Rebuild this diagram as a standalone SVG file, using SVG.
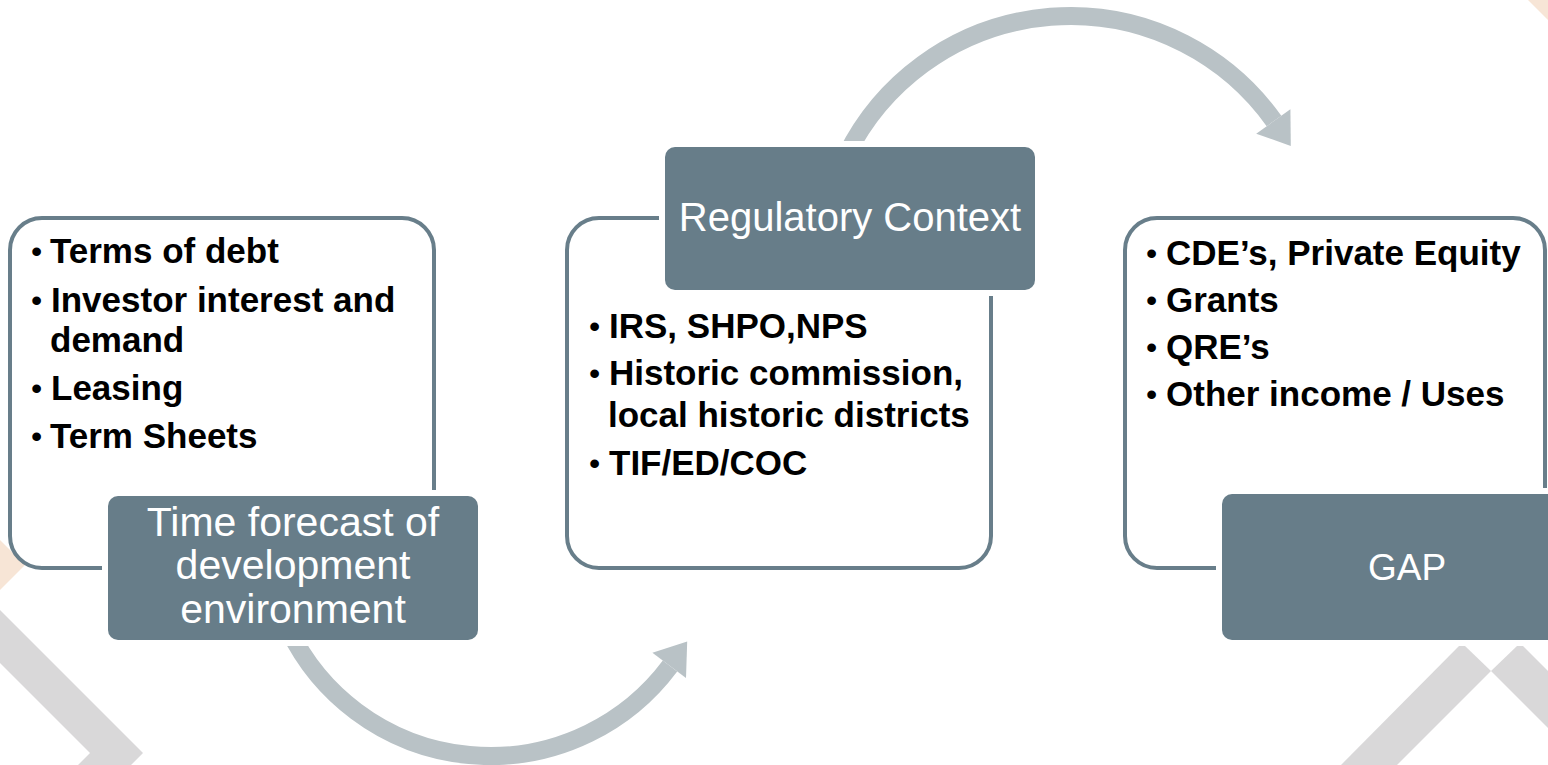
<svg xmlns="http://www.w3.org/2000/svg" width="1548" height="765" viewBox="0 0 1548 765">
<style>
.bg-gray{fill:#D9D8D9}
.bg-peach{fill:#F7E5D6}
.frame{fill:#FFFFFF;stroke:#687E8A;stroke-width:4}
.title{fill:#677D89;stroke:#FFFFFF;stroke-width:12;paint-order:stroke}
.arc{fill:none;stroke:#B9C2C6;stroke-width:18}
.head{fill:#B9C2C6}
.item{font-family:"Liberation Sans",Arial,sans-serif;font-weight:bold;font-size:35px;fill:#000000}
.bul{font-family:"Liberation Sans",Arial,sans-serif;font-size:32px;fill:#000000}
.ttl{font-family:"Liberation Sans",Arial,sans-serif;font-size:40px;fill:#FFFFFF;text-anchor:middle}
</style>
<rect x="0" y="0" width="1548" height="765" fill="#FFFFFF"/>
<g id="background">
  <polygon class="bg-peach" points="0,540 25,565 0,590"/>
  <polygon class="bg-peach" points="1528,0 1548,0 1548,20"/>
  <polygon class="bg-gray" points="0,610 143,753 131,765 78,765 90,753 0,663"/>
  <polygon class="bg-gray" points="1341,765 1459,646 1465,646 1491,671 1397,765"/>
  <polygon class="bg-gray" points="1491,671 1517,646 1523,646 1548,671 1548,728"/>
</g>
<g id="connectors">
  <path class="arc" d="M 289 630 A 224 224 0 0 0 670 666"/>
  <polygon class="head" points="652.4,652.8 687.2,641.4 686,678"/>
  <path class="arc" d="M 846.4 155 A 250 250 0 0 1 1274 121"/>
  <polygon class="head" points="1256.2,133.7 1290.4,109.3 1290.8,145.9"/>
</g>
<g id="node-time-forecast">
  <rect class="frame" x="10" y="218" width="424" height="350" rx="32"/>
  <text class="bul" x="31" y="262">•</text><text class="item" x="50" y="263">Terms of debt</text>
  <text class="bul" x="31" y="311">•</text><text class="item" x="51" y="312">Investor interest and</text>
  <text class="item" x="50" y="352">demand</text>
  <text class="bul" x="31" y="399">•</text><text class="item" x="51" y="400">Leasing</text>
  <text class="bul" x="31" y="447">•</text><text class="item" x="50" y="448">Term Sheets</text>
  <rect class="title" x="108" y="496" width="370" height="144" rx="10"/>
  <text class="ttl" style="font-size:41px" x="293" y="536">Time forecast of</text>
  <text class="ttl" style="font-size:41px" x="293" y="579">development</text>
  <text class="ttl" style="font-size:41px" x="293" y="623">environment</text>
</g>
<g id="node-regulatory">
  <rect class="frame" x="567" y="218" width="424" height="350" rx="32"/>
  <text class="bul" x="589" y="337">•</text><text class="item" x="609" y="338">IRS, SHPO,NPS</text>
  <text class="bul" x="589" y="384">•</text><text class="item" x="609" y="385">Historic commission,</text>
  <text class="item" x="608" y="427">local historic districts</text>
  <text class="bul" x="589" y="474">•</text><text class="item" x="609" y="475">TIF/ED/COC</text>
  <rect class="title" x="665" y="147" width="370" height="143" rx="10"/>
  <text class="ttl" x="850" y="231">Regulatory Context</text>
</g>
<g id="node-gap">
  <rect class="frame" x="1125" y="218" width="420" height="350" rx="32"/>
  <text class="bul" x="1146" y="264">•</text><text class="item" x="1166" y="265">CDE’s, Private Equity</text>
  <text class="bul" x="1146" y="311">•</text><text class="item" x="1166" y="312">Grants</text>
  <text class="bul" x="1146" y="358">•</text><text class="item" x="1166" y="359">QRE’s</text>
  <text class="bul" x="1146" y="405">•</text><text class="item" x="1166" y="406">Other income / Uses</text>
  <rect class="title" x="1222" y="494" width="370" height="146" rx="10"/>
  <text class="ttl" style="font-size:37px" x="1407" y="580">GAP</text>
</g>
</svg>
